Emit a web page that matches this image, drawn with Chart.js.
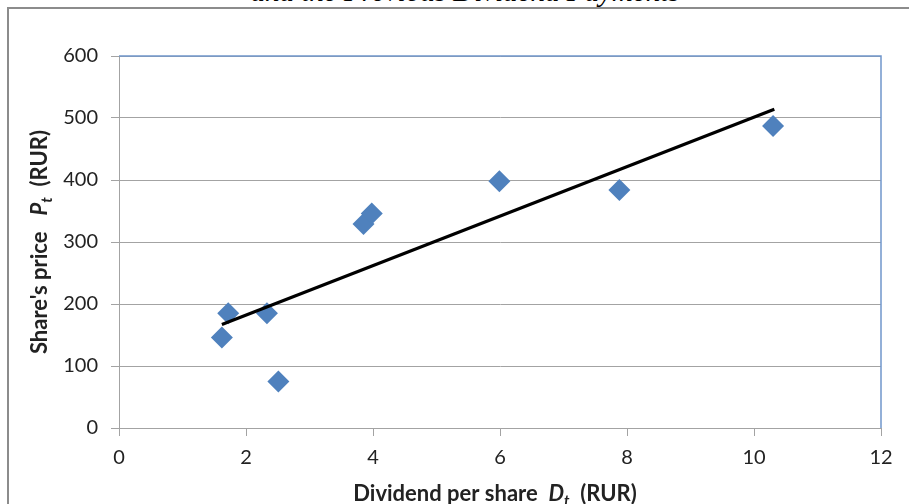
<!DOCTYPE html>
<html>
<head>
<meta charset="utf-8">
<script src="https://cdn.jsdelivr.net/npm/chart.js@4"></script>
<style>
  html, body { margin: 0; padding: 0; background: #fff; overflow: hidden; }
  #wrap { position: relative; width: 909px; height: 504px; }
  #frame { position: absolute; left: 7px; top: 7px; width: 1000px; height: 600px; border-left: 2px solid #8c8c8c; border-top: 2px solid #8c8c8c; }
  #docTitle { position: absolute; left: 0; width: 930px; top: -25px; text-align: center; font: italic 29px "Liberation Serif", serif; color: #000; white-space: nowrap; }
  canvas { position: absolute; left: 0; top: 0; }
</style>
</head>
<body>
<div id="wrap">
  <div id="docTitle">and the Previous Dividend Payments</div>
  <div id="frame"></div>
  <canvas id="priceChart" width="909" height="504"></canvas>
</div>
<script>
// dividend per share vs share price
const dividends = [1.62, 1.72, 2.33, 2.51, 3.85, 3.98, 5.99, 7.88, 10.3];
const prices    = [146, 185, 185, 75, 329, 346, 398, 384, 487];

// trend line ends
const trendX = [1.62, 10.32];
const trendY = [167, 514];

const xTicks = [0, 2, 4, 6, 8, 10, 12];
const yTicks = [0, 100, 200, 300, 400, 500, 600];

const gridColor = "#a3a3a3";
const fontName = "Lato, 'Open Sans', sans-serif";

// draws text pieces one after another (for the subscripts)
function drawParts(ctx, parts, x, y) {
  let total = 0;
  parts.forEach(p => { ctx.font = p.font; total += ctx.measureText(p.text).width; });
  let cx = x - total / 2;
  parts.forEach(p => {
    ctx.font = p.font;
    ctx.fillText(p.text, cx, y + (p.dy || 0));
    cx += ctx.measureText(p.text).width;
  });
}

const axisTitles = {
  id: "axisTitles",
  afterDraw(chart) {
    const ctx = chart.ctx;
    const a = chart.chartArea;
    ctx.save();
    // plot border top / right in blue
    ctx.strokeStyle = "#7096cc";
    ctx.lineWidth = 1.5;
    ctx.beginPath();
    ctx.moveTo(a.left, a.top);
    ctx.lineTo(a.right, a.top);
    ctx.lineTo(a.right, a.bottom);
    ctx.stroke();

    ctx.fillStyle = "#222";
    ctx.textBaseline = "alphabetic";
    const b = "bold 22px " + fontName;
    const bi = "italic bold 22px " + fontName;
    const sub = "italic bold 15px " + fontName;
    drawParts(ctx, [
      { text: "Dividend per share  ", font: b },
      { text: "D", font: bi },
      { text: "t", font: sub, dy: 5 },
      { text: "  (RUR)", font: b }
    ], 495, 501);

    ctx.translate(39, (a.top + a.bottom) / 2);
    ctx.rotate(-Math.PI / 2);
    drawParts(ctx, [
      { text: "Share's price   ", font: b },
      { text: "P", font: bi },
      { text: "t", font: sub, dy: 5 },
      { text: "  (RUR)", font: b }
    ], 0, 8);
    ctx.restore();
  }
};

const ctx = document.getElementById("priceChart").getContext("2d");
const priceChart = new Chart(ctx, {
  type: "scatter",
  data: {
    datasets: [
      {
        label: "Price",
        data: dividends.map((d, i) => ({ x: d, y: prices[i] })),
        pointStyle: "rectRot",
        pointRadius: 11,
        pointHoverRadius: 11,
        backgroundColor: "#4f81bd",
        borderColor: "#4f81bd",
        borderWidth: 0,
        order: 2
      },
      {
        label: "Trend",
        type: "line",
        data: trendX.map((d, i) => ({ x: d, y: trendY[i] })),
        borderColor: "#000",
        borderWidth: 3.2,
        pointRadius: 0,
        fill: false,
        order: 1
      }
    ]
  },
  options: {
    responsive: false,
    animation: false,
    layout: { padding: { left: 0, top: 56, right: 28, bottom: 0 } },
    plugins: { legend: { display: false }, tooltip: { enabled: false }, title: { display: false } },
    scales: {
      x: {
        type: "linear",
        min: 0, max: 12,
        afterBuildTicks: s => { s.ticks = xTicks.map(v => ({ value: v })); },
        afterFit: s => { s.height = 76; },
        grid: { drawOnChartArea: false, drawTicks: true, tickLength: 8, color: gridColor, tickColor: gridColor },
        border: { color: gridColor },
        ticks: { color: "#222", font: { family: fontName, size: 20 }, padding: 10 }
      },
      y: {
        type: "linear",
        min: 0, max: 600,
        afterBuildTicks: s => { s.ticks = yTicks.map(v => ({ value: v })); },
        afterFit: s => { s.width = 119; },
        grid: { color: gridColor, tickLength: 8, tickColor: gridColor },
        border: { color: gridColor },
        ticks: { color: "#222", font: { family: fontName, size: 20 }, padding: 13 }
      }
    }
  },
  plugins: [axisTitles]
});
</script>
</body>
</html>
